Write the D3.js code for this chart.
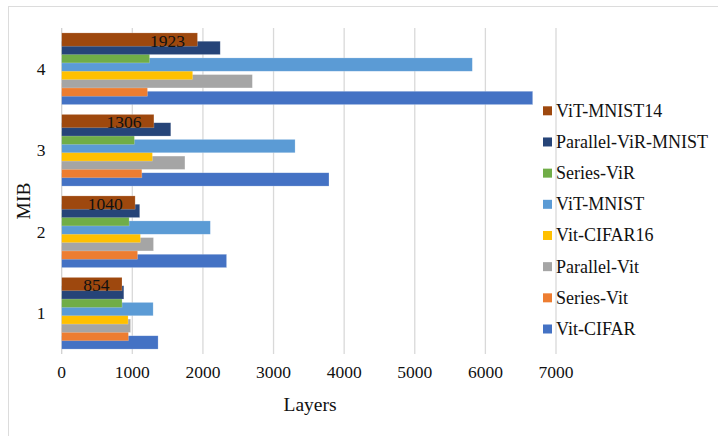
<!DOCTYPE html>
<html>
<head>
<meta charset="utf-8">
<script src="https://cdn.jsdelivr.net/npm/d3@7"></script>
<style>
  html, body { margin: 0; padding: 0; background: #fff; }
  svg { display: block; }
  text { font-family: "Liberation Serif", "Times New Roman", serif; fill: #111; }
</style>
</head>
<body>
<svg id="chart" width="718" height="436"></svg>
<script>
// Categories (MIB) and x-axis ticks
const categories = ["1", "2", "3", "4"];
const xTicks = [0, 1000, 2000, 3000, 4000, 5000, 6000, 7000];

// Series, listed from the bottom bar of each group to the top bar
const seriesNames = ["Vit-CIFAR", "Series-Vit", "Parallel-Vit", "Vit-CIFAR16",
                     "ViT-MNIST", "Series-ViR", "Parallel-ViR-MNIST", "ViT-MNIST14"];
const vitCifar        = [1365, 2335, 3785, 6670];
const seriesVit       = [945, 1075, 1135, 1215];
const parallelVit     = [975, 1300, 1745, 2700];
const vitCifar16      = [940, 1115, 1285, 1855];
const vitMnist        = [1295, 2105, 3305, 5815];
const seriesVir       = [855, 955, 1030, 1245];
const parallelVirMnist = [880, 1105, 1545, 2245];
const vitMnist14      = [854, 1040, 1306, 1923];
const seriesValues = [vitCifar, seriesVit, parallelVit, vitCifar16,
                      vitMnist, seriesVir, parallelVirMnist, vitMnist14];
const seriesColors = ["#4472C4", "#ED7D31", "#A5A5A5", "#FFC000",
                      "#5B9BD5", "#70AD47", "#264478", "#9E480E"];

const svg = d3.select("#chart");

// Outer chart border
svg.append("rect")
  .attr("x", 8.5).attr("y", 6.5).attr("width", 760).attr("height", 480)
  .attr("fill", "none").attr("stroke", "#dcdcdc").attr("stroke-width", 1);

const plot = { left: 61.7, right: 556, top: 28, bottom: 354 };

const x = d3.scaleLinear().domain([0, 7000]).range([plot.left, plot.right]);
const y = d3.scaleBand().domain(categories.slice().reverse()).range([plot.top, plot.bottom]).padding(0);

const bw = y.bandwidth();
const step = bw * 0.1023;        // vertical offset between neighbouring series
const barH = bw * 0.1636;        // bars overlap their lower neighbour
const pad = (bw - 7 * step - barH) / 2;
// series index -> top offset inside a group
const inner = d3.scaleLinear().domain([0, 7]).range([pad + 7 * step, pad]);

// Gridlines
svg.append("g").selectAll("line")
  .data(xTicks.filter(t => t > 0))
  .join("line")
  .attr("x1", d => x(d)).attr("x2", d => x(d))
  .attr("y1", plot.top).attr("y2", plot.bottom)
  .attr("stroke", "#d9d9d9").attr("stroke-width", 1.3);

// Vertical category axis line
svg.append("line")
  .attr("x1", x(0)).attr("x2", x(0))
  .attr("y1", plot.top).attr("y2", plot.bottom)
  .attr("stroke", "#d0d0d0").attr("stroke-width", 1.3);

// Bars: lower series first so each upper bar overlaps the one beneath it
const bars = svg.append("g");
seriesValues.forEach((vals, si) => {
  bars.append("g")
    .selectAll("rect")
    .data(vals.map((v, ci) => ({ cat: categories[ci], v })))
    .join("rect")
    .attr("x", x(0))
    .attr("y", d => y(d.cat) + inner(si))
    .attr("width", d => x(d.v) - x(0))
    .attr("height", barH)
    .attr("fill", seriesColors[si])
    .attr("stroke", "rgba(255,255,255,0.35)")
    .attr("stroke-width", 0.6);
});

// Value labels on the top series
const topIdx = seriesValues.length - 1;
svg.append("g").selectAll("text")
  .data(vitMnist14.map((v, ci) => ({ cat: categories[ci], v })))
  .join("text")
  .attr("x", d => x(d.v) - 12.5)
  .attr("y", d => y(d.cat) + inner(topIdx) + barH / 2 + 1)
  .attr("text-anchor", "end")
  .attr("dominant-baseline", "central")
  .style("font-size", "17.5px")
  .text(d => d.v);

// X tick labels
svg.append("g").selectAll("text")
  .data(xTicks)
  .join("text")
  .attr("x", d => x(d))
  .attr("y", 378)
  .attr("text-anchor", "middle")
  .style("font-size", "17.5px")
  .text(d => d);

// Y category labels
svg.append("g").selectAll("text")
  .data(categories)
  .join("text")
  .attr("x", 41)
  .attr("y", d => y(d) + bw / 2)
  .attr("text-anchor", "middle")
  .attr("dominant-baseline", "central")
  .style("font-size", "17.5px")
  .text(d => d);

// Axis titles
svg.append("text")
  .attr("x", 310).attr("y", 411)
  .attr("text-anchor", "middle")
  .style("font-size", "19.5px")
  .text("Layers");

svg.append("text")
  .attr("transform", "translate(23,201) rotate(-90)")
  .attr("text-anchor", "middle")
  .attr("dominant-baseline", "central")
  .style("font-size", "19.5px")
  .text("MIB");

// Legend, top series first
const legendOrder = d3.range(seriesNames.length).reverse();
const legendY = d3.scaleLinear().domain([0, 7]).range([110.8, 329]);
const legend = svg.append("g").selectAll("g")
  .data(legendOrder)
  .join("g")
  .attr("transform", (d, i) => `translate(0,${legendY(i)})`);
legend.append("rect")
  .attr("x", 543).attr("y", -4.5)
  .attr("width", 9).attr("height", 9)
  .attr("fill", d => seriesColors[d]);
legend.append("text")
  .attr("x", 556).attr("y", 0)
  .attr("dominant-baseline", "central")
  .style("font-size", "18px")
  .text(d => seriesNames[d]);
</script>
</body>
</html>
